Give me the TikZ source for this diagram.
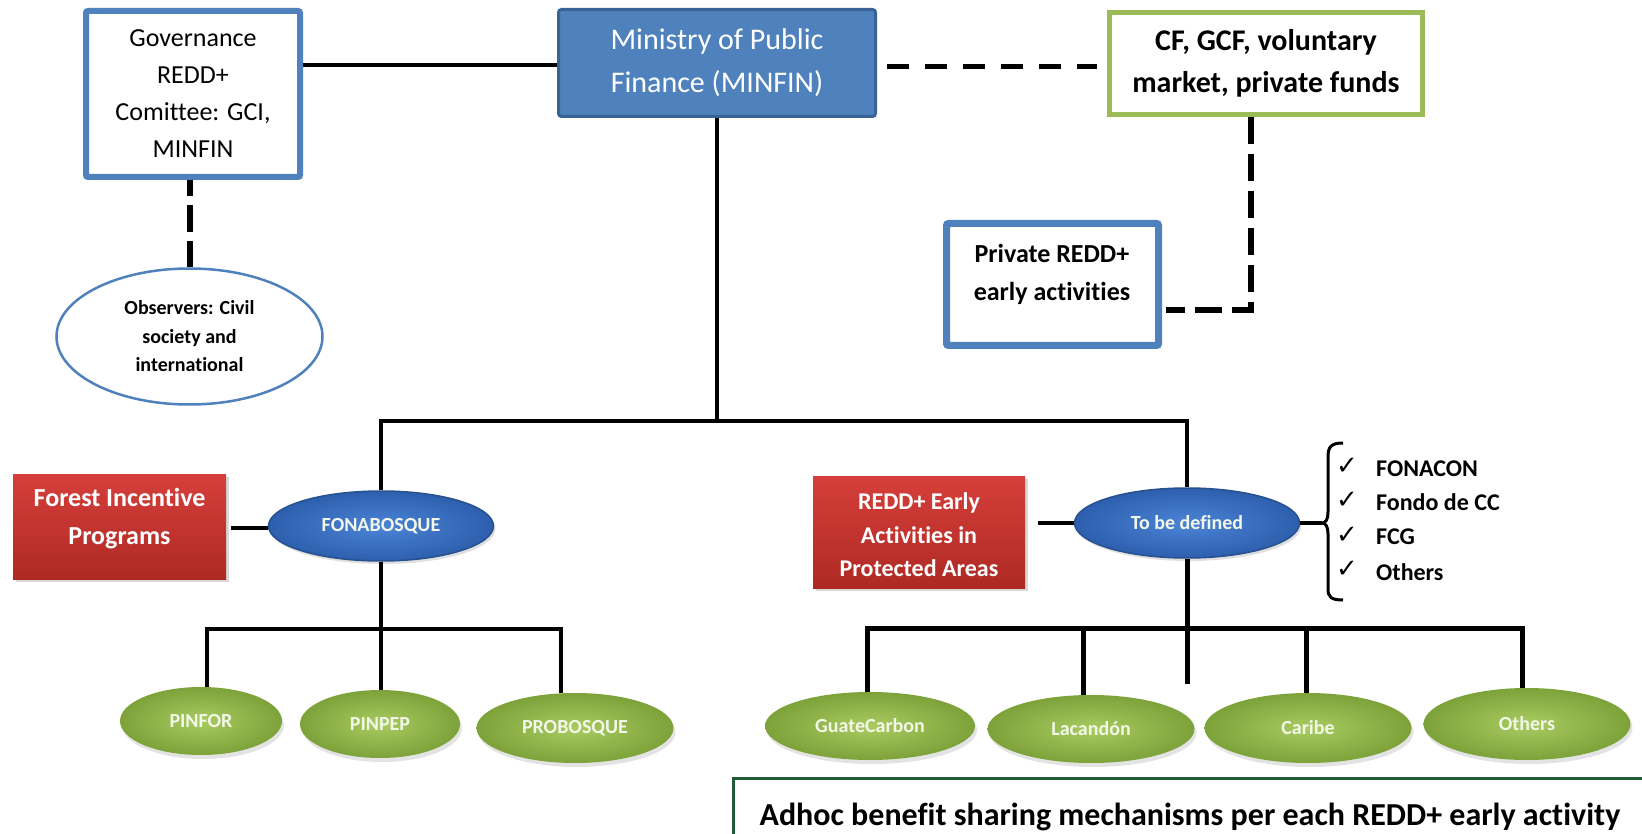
\documentclass[tikz,border=0pt]{standalone}
\usepackage{fontspec}
\setmainfont{Carlito}[Ligatures={NoCommon,NoContextual}]
\newfontfamily\chkfont{DejaVu Sans}
\usetikzlibrary{shapes.geometric,shadows,calc}
\definecolor{blueb}{HTML}{4F81BD}
\definecolor{minfindraw}{HTML}{3A6395}
\definecolor{greenb}{HTML}{9BBB59}
\definecolor{redtop}{HTML}{D63F3B}
\definecolor{redbot}{HTML}{AE2923}
\definecolor{elbin}{HTML}{4C84D6}
\definecolor{elbout}{HTML}{2D5FAE}
\definecolor{elbdraw}{HTML}{27518F}
\definecolor{elgin}{HTML}{A8CC60}
\definecolor{elgout}{HTML}{7EA23A}
\definecolor{botgreen}{HTML}{1D5C36}
\definecolor{lighttxt}{HTML}{F2F7E8}
\begin{document}
\begin{tikzpicture}[x=1pt,y=-1pt,
  conn/.style={line width=4.5pt, draw=black},
  connthick/.style={line width=5pt, draw=black},
  dashA/.style={line width=6pt, draw=black, dash pattern=on 27pt off 9pt, dash phase=11pt},
  dashB/.style={line width=5pt, draw=black, dash pattern=on 22pt off 16pt},
  dashC/.style={line width=6pt, draw=black, dash pattern=on 27pt off 10pt},
  bluebox/.style={rectangle, draw=blueb, fill=white, rounded corners=2pt, inner sep=0pt, align=center},
  redbox/.style={rectangle, top color=redtop, bottom color=redbot, draw=none, inner sep=0pt, align=center,
     drop shadow={shadow xshift=3pt, shadow yshift=-3pt, opacity=0.3}},
  redtext/.style={align=center, text=white, inner sep=0pt},
  blueell/.style={ellipse, inner color=elbin, outer color=elbout, draw=elbdraw, line width=1.5pt, inner sep=0pt,
     text=lighttxt, font={\fontsize{20}{24}\selectfont\bfseries}, minimum width=225pt, minimum height=70pt,
     drop shadow={shadow xshift=2pt, shadow yshift=-3pt, opacity=0.25}},
  greenell/.style={ellipse, inner color=elgin, outer color=elgout, draw=none, inner sep=0pt,
     text=lighttxt, font={\fontsize{20}{24}\selectfont\bfseries},
     drop shadow={shadow xshift=2pt, shadow yshift=-4pt, opacity=0.22}},
  listtxt/.style={anchor=west, inner sep=0pt, font={\fontsize{24}{28}\selectfont\bfseries}},
  chk/.style={inner sep=0pt, font={\chkfont\fontsize{26}{28}\selectfont}}
]
\useasboundingbox (0,0) rectangle (1642,834);
\fill[white] (0,0) rectangle (1642,834);

% top row
\node[bluebox, line width=6pt, minimum width=214pt, minimum height=166pt,
      font={\fontsize{26}{37}\selectfont}] (gov) at (193,94)
      {Governance\\REDD+\\Comittee: GCI,\\MINFIN};
\node[ellipse, draw=blueb, line width=2.5pt, fill=white, inner sep=0pt, minimum width=266pt, minimum height=136pt,
      align=center, font={\fontsize{20}{28.5}\selectfont\bfseries}] (obs) at (189.5,336.5)
      {Observers: Civil\\society and\\international};
\node[rectangle, fill=blueb, draw=minfindraw, line width=3pt, rounded corners=3pt, inner sep=0pt,
      minimum width=317pt, minimum height=107pt, align=center, text=white,
      font={\fontsize{30}{43}\selectfont}] (minfin) at (717,63)
      {Ministry of Public\\Finance (MINFIN)};
\node[rectangle, draw=greenb, fill=white, line width=5pt, inner sep=0pt, minimum width=313pt, minimum height=102pt,
      align=center, font={\fontsize{30}{42}\selectfont\bfseries}] (cf) at (1266,63.5)
      {CF, GCF, voluntary\\market, private funds};
\node[bluebox, line width=7pt, minimum width=212pt, minimum height=122pt] (priv) at (1052.5,284.5) {};
\node[align=center, inner sep=0pt, font={\fontsize{26}{38}\selectfont\bfseries}] (privt) at (1052,274)
      {Private REDD+\\early activities};

% middle row
\node[redbox, minimum width=213pt, minimum height=105pt] (forest) at (119.5,526.5) {};
\node[redtext, font={\fontsize{26}{38}\selectfont\bfseries}] (forestt) at (119.5,519)
      {Forest Incentive\\Programs};
\node[blueell] (fona) at (381,526) {FONABOSQUE};
\node[redbox, minimum width=212pt, minimum height=112pt] (redd) at (919,532) {};
\node[redtext, font={\fontsize{24}{33.5}\selectfont\bfseries}] (reddt) at (919,535)
      {REDD+ Early\\Activities in\\Protected Areas};
\node[blueell] (tbd) at (1187,523) {To be defined};

% list with bracket
\coordinate (brtip) at (1322,523);
\draw[line width=3pt] (1343,443) .. controls (1331,443) and (1328,447) .. (1328,457) -- (1328,512)
   .. controls (1328,519) and (1326,523) .. (brtip) .. controls (1326,523) and (1328,527) .. (1328,534)
   -- (1328,589) .. controls (1328,597) and (1331,600) .. (1343,600);
\node[chk] (c1) at (1347,466) {✓};
\node[chk] (c2) at (1347,500) {✓};
\node[chk] (c3) at (1347,535) {✓};
\node[chk] (c4) at (1347,569) {✓};
\node[listtxt] (l1) at (1376,469) {FONACON};
\node[listtxt] (l2) at (1376,502) {Fondo de CC};
\node[listtxt] (l3) at (1376,537) {FCG};
\node[listtxt] (l4) at (1376,572) {Others};

% bottom ellipses
\node[greenell, minimum width=162pt, minimum height=68pt] (pinfor) at (201,721) {PINFOR};
\node[greenell, minimum width=160pt, minimum height=68pt] (pinpep) at (380,724) {PINPEP};
\node[greenell, minimum width=197pt, minimum height=70pt] (probosque) at (575,728) {PROBOSQUE};
\node[greenell, minimum width=210pt, minimum height=68pt] (guate) at (870,726) {GuateCarbon};
\node[greenell, minimum width=207pt, minimum height=68pt] (lacandon) at (1091,729) {Lacandón};
\node[greenell, minimum width=207pt, minimum height=70pt] (caribe) at (1308,728) {Caribe};
\node[greenell, minimum width=207pt, minimum height=72pt] (othersg) at (1527,724) {Others};

% bottom box
\node[rectangle, draw=botgreen, line width=2.5pt, fill=white, minimum width=920pt, minimum height=74pt,
      anchor=north west, inner sep=0pt] (adhocbox) at (732,777) {};
\node[inner sep=0pt, font={\fontsize{32}{38}\selectfont\bfseries}] (adhoc) at (1190,817)
      {Adhoc benefit sharing mechanisms per each REDD+ early activity};

% connectors top
\draw[conn] (gov.east |- 0,65) -- (minfin.west |- 0,65);
\draw[dashA] (gov.south -| obs.north) -- (obs.north);
\coordinate (me) at ([xshift=10pt]minfin.east);
\coordinate (cw) at ([xshift=-10pt]cf.west);
\draw[dashB] (me |- 0,67) -- (cw |- 0,67);
\coordinate (pc) at (1251,310);
\coordinate (pe) at ([xshift=4pt]priv.east);
\draw[dashC] (cf.south -| pc) -- (pc) -- (pe |- pc);

% main tree
\coordinate (topbar) at (717,421);
\draw[conn] (minfin.south) -- (topbar);
\draw[conn] (fona.north) |- (topbar) -| (tbd.north);
\coordinate (fe) at ([xshift=5pt]forest.east);
\draw[conn] (fe |- 0,528) -- (fona.west |- 0,528);
\coordinate (re) at ([xshift=13pt]redd.east);
\draw[conn] (re |- tbd.west) -- (tbd.west);
\draw[conn] (tbd.east) -- (brtip);

% left subtree
\coordinate (lsub) at (381,629);
\draw[conn] (fona.south) -- (fona.south |- pinpep.north);
\coordinate (pf) at ([xshift=6pt]pinfor.north);
\coordinate (pb) at ([xshift=-14pt]probosque.north);
\draw[conn] (pf) |- (lsub) -| (pb);

% right subtree
\coordinate (rsub) at (1187,628);
\coordinate (stub) at (1187,684);
\draw[connthick] (tbd.south) -- (stub);
\coordinate (gc) at ([xshift=-3pt]guate.north);
\coordinate (oc) at ([xshift=-5pt]othersg.north);
\draw[connthick] (gc) |- (rsub) -| (oc);
\coordinate (lc) at ([xshift=-8pt]lacandon.north);
\coordinate (cc) at ([xshift=-2pt]caribe.north);
\draw[connthick] (lc) -- (lc |- rsub);
\draw[connthick] (cc) -- (cc |- rsub);
\end{tikzpicture}
\end{document}
